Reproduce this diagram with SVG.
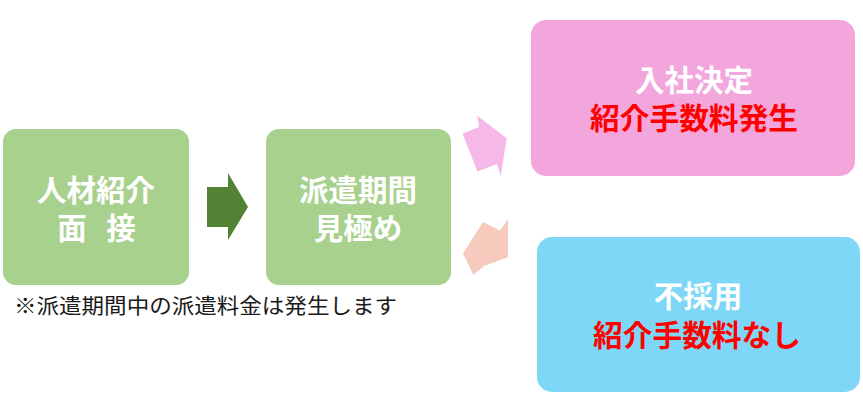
<svg xmlns="http://www.w3.org/2000/svg" width="863" height="416" viewBox="0 0 863 416">
<style>
text{font-family:"Noto Sans CJK JP","Noto Sans",sans-serif;text-anchor:middle}
.t{font-size:29.5px;font-weight:bold;fill:#ffffff}
.r{font-size:29.7px;font-weight:bold;fill:#ff0000}
.w{font-size:29.5px;font-weight:bold;fill:#ffffff}
.g{fill:#a9d18e}
.note{font-size:21px;fill:#1a1a1a;text-anchor:start}
</style>
<rect width="863" height="416" fill="#ffffff"/>
<g id="connectors">
<polygon points="207,187 228,187 228,173 248,207 228,240 228,227 207,227" fill="#548235"/>
<polygon points="462.5,133.5 479,127 477.3,115.7 506.7,138.3 500.7,176 497,164 477.5,171.5" fill="#f6b9e7"/>
<polygon points="463,253.5 483,222 500,230.5 508,219.3 508,257.3 484,266 473.5,275" fill="#f6cbbd"/>
</g>
<g id="node-interview">
<rect class="g" x="3" y="129" width="186" height="156" rx="13"/>
<text class="t" x="96" y="201">人材紹介</text>
<text class="t" x="94" y="239" letter-spacing="-5">面　接</text>
</g>
<g id="node-dispatch">
<rect class="g" x="266" y="129" width="185" height="156" rx="13"/>
<text class="t" x="358" y="201">派遣期間</text>
<text class="t" x="358" y="239">見極め</text>
</g>
<g id="node-hired">
<rect x="531" y="20" width="324" height="156" rx="15" fill="#f2a6db"/>
<text class="w" x="694" y="91">入社決定</text>
<text class="r" x="694" y="129">紹介手数料発生</text>
</g>
<g id="node-rejected">
<rect x="537" y="237" width="323" height="155" rx="15" fill="#7fd7f7"/>
<text class="w" x="698" y="307">不採用</text>
<text class="r" x="697" y="346">紹介手数料なし</text>
</g>
<text class="note" x="14" y="313" textLength="383" lengthAdjust="spacingAndGlyphs">※派遣期間中の派遣料金は発生します</text>
</svg>
